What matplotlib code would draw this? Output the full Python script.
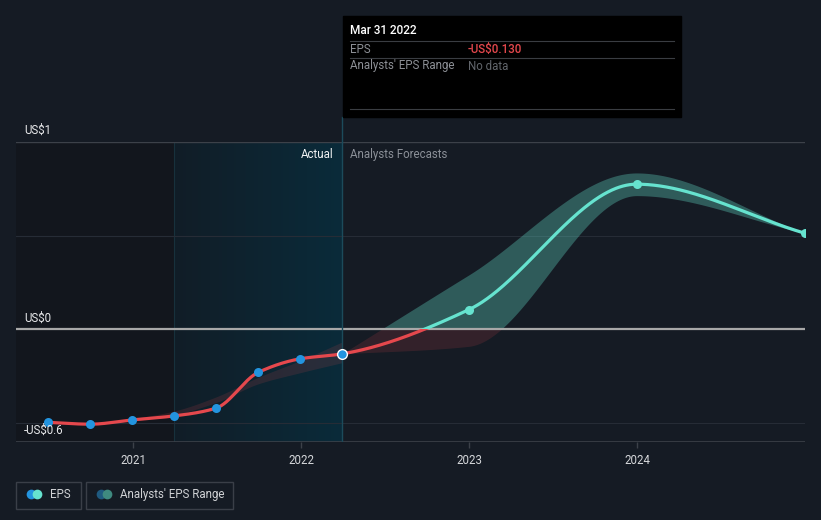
import numpy as np
import pandas as pd
import matplotlib
matplotlib.use("Agg")
from matplotlib import pyplot as plt
from matplotlib.patches import Rectangle

plt.rcParams['font.family'] = ['Roboto', 'DejaVu Sans']

# actual EPS (quarter ends)
eps_dates = ['2020-06-30', '2020-09-30', '2020-12-31', '2021-03-31',
             '2021-06-30', '2021-09-30', '2021-12-31', '2022-03-31']
eps_values = [-0.495, -0.505, -0.482, -0.461, -0.420, -0.229, -0.156, -0.130]

# analyst forecasts
fc_dates = ['2022-03-31', '2022-12-31', '2023-12-31', '2024-12-31']
fc_values = [-0.130, 0.105, 0.775, 0.514]
fc_low = [-0.130, -0.090, 0.714, 0.514]
fc_high = [-0.130, 0.290, 0.835, 0.514]

# past analyst range (faint band behind actuals)
past_dates = ['2020-09-30', '2020-12-31', '2021-03-31', '2021-06-30',
              '2021-09-30', '2021-12-31', '2022-03-31']
past_low = [-0.505, -0.487, -0.455, -0.390, -0.290, -0.230, -0.177]
past_high = [-0.505, -0.475, -0.435, -0.360, -0.255, -0.165, -0.067]

year_ticks = [2021, 2022, 2023, 2024]

BG = '#151b24'
RED = '#e5484d'
CYAN = '#66e3cf'
BLUE = '#2394df'
W, H = 821, 520


def dec_year(s):
    d = pd.Timestamp(s)
    n = 366 if d.is_leap_year else 365
    return d.year + (d.dayofyear - 1) / n


def smooth(x, y, n=400):
    # monotone cubic through the points, only for drawing
    x = np.asarray(x, float)
    y = np.asarray(y, float)
    h = np.diff(x)
    d = np.diff(y) / h
    m = np.zeros_like(y)
    for k in range(1, len(y) - 1):
        if d[k - 1] * d[k] > 0:
            w1 = 2 * h[k] + h[k - 1]
            w2 = h[k] + 2 * h[k - 1]
            m[k] = (w1 + w2) / (w1 / d[k - 1] + w2 / d[k])
    m[0] = d[0]
    m[-1] = d[-1]
    xs = np.linspace(x[0], x[-1], n)
    i = np.clip(np.searchsorted(x, xs) - 1, 0, len(h) - 1)
    t = (xs - x[i]) / h[i]
    ys = ((2 * t**3 - 3 * t**2 + 1) * y[i] + (t**3 - 2 * t**2 + t) * h[i] * m[i]
          + (-2 * t**3 + 3 * t**2) * y[i + 1] + (t**3 - t**2) * h[i] * m[i + 1])
    return xs, ys


def fx(x):
    return x / W


def fy(y):
    return 1 - y / H


ex = [dec_year(d) for d in eps_dates]
fxs = [dec_year(d) for d in fc_dates]
px = [dec_year(d) for d in past_dates]
split = dec_year('2021-03-31')
now = dec_year('2022-03-31')

fig = plt.figure(figsize=(W / 100, H / 100), dpi=100, facecolor=BG)
ax = fig.add_axes([fx(16), fy(442), fx(805) - fx(16), fy(142) - fy(442)])
ax.set_facecolor(BG)
x0, x1 = 2020.304, 2025.0
ax.set_xlim(x0, x1)
ax.set_ylim(-0.6, 1.0)
for s in ax.spines.values():
    s.set_visible(False)

# background regions
ax.axvspan(x0, split, color='#12161d', zorder=0, lw=0)
grad = np.linspace(0, 1, 256).reshape(1, -1)
cmap = matplotlib.colors.LinearSegmentedColormap.from_list('hl', ['#111d27', '#0a2b3a'])
ax.imshow(grad, extent=[split, now, -0.6, 1.0], aspect='auto', cmap=cmap, zorder=0.5)
ax.axvline(split, color='#17313c', lw=0.8, zorder=1)

# grid
for v in [0.5, -0.5]:
    ax.axhline(v, color='#262c36', lw=0.8, zorder=1)
ax.axhline(1.0, color='#3c4149', lw=1.0, zorder=1)
ax.axhline(-0.6, color='#3c4149', lw=1.2, zorder=1)

# past analyst range
sx, sl = smooth(px, past_low)
_, sh = smooth(px, past_high)
ax.fill_between(sx, sl, sh, color=RED, alpha=0.14, lw=0, zorder=2)

# forecast range, teal above zero and red below
fx_s, fl = smooth(fxs, fc_low)
_, fh = smooth(fxs, fc_high)
ax.fill_between(fx_s, np.maximum(fl, 0), np.maximum(fh, 0), color=CYAN, alpha=0.32, lw=0, zorder=2)
ax.fill_between(fx_s, np.minimum(fl, 0), np.minimum(fh, 0), color=RED, alpha=0.15, lw=0, zorder=2)

ax.axhline(0, color='#a8a8a8', lw=1.6, zorder=3)

# one continuous line through actuals and forecasts, coloured by sign
all_x = ex + fxs[1:]
all_y = eps_values + fc_values[1:]
lx, ly = smooth(all_x, all_y, n=900)
above = Rectangle((x0, 0), x1 - x0, 2, transform=ax.transData)
below = Rectangle((x0, -2), x1 - x0, 2, transform=ax.transData)
l1, = ax.plot(lx, ly, color=CYAN, lw=2.3, zorder=4)
l1.set_clip_path(above)
l2, = ax.plot(lx, ly, color=RED, lw=2.3, zorder=4)
l2.set_clip_path(below)

ax.plot(ex[:-1], eps_values[:-1], 'o', color=BLUE, ms=6.5, mew=0, zorder=5)
ax.plot(ex[-1], eps_values[-1], 'o', color=BLUE, ms=7, mec='white', mew=1, zorder=6)
ax.plot(fxs[1:], fc_values[1:], 'o', color=CYAN, ms=6.5, mew=0, zorder=5)

ax.axvline(now, ymin=0, ymax=1, color='#1c4b5b', lw=1, zorder=3)
fig.add_artist(plt.Line2D([fx(342), fx(342)], [fy(142), fy(117)], color='#1c4b5b', lw=1))

# x axis
ax.set_xticks(year_ticks)
ax.set_xticklabels([str(y) for y in year_ticks])
ax.tick_params(axis='x', colors='#3c4149', length=4, width=1, labelcolor='#d5d7da',
               labelsize=8.3, pad=5)
ax.set_yticks([])

# y labels
fig.text(fx(24), fy(130), 'US$1', color='#e8e9eb', fontsize=8.3, va='center')
fig.text(fx(24), fy(318), 'US$0', color='#e8e9eb', fontsize=8.3, va='center')
fig.text(fx(24), fy(430), '-US$0.6', color='#e8e9eb', fontsize=8.3, va='center')

fig.text(fx(333), fy(154), 'Actual', color='#f0f1f2', fontsize=8.3, va='center', ha='right')
fig.text(fx(350), fy(154), 'Analysts Forecasts', color='#8b9098', fontsize=8.3, va='center')

# tooltip
fig.add_artist(Rectangle((fx(343), fy(117)), fx(681) - fx(343), fy(16) - fy(117),
                         transform=fig.transFigure, color='#000000', zorder=10))
for yy in [41.5, 58.3, 109]:
    fig.add_artist(plt.Line2D([fx(350), fx(674)], [fy(yy), fy(yy)], color='#3a3d42',
                              lw=0.8, zorder=11))
fig.text(fx(350), fy(31), 'Mar 31 2022', color='white', fontsize=8.5, va='center',
         fontweight='medium', zorder=12)
fig.text(fx(350), fy(49.5), 'EPS', color='#8d9096', fontsize=8.3, va='center', zorder=12)
fig.text(fx(468), fy(49.5), '-US$0.130', color='#e5484d', fontsize=8.3, va='center',
         fontweight='medium', zorder=12)
fig.text(fx(350), fy(66), "Analysts' EPS Range", color='#8d9096', fontsize=8.3,
         va='center', zorder=12)
fig.text(fx(468), fy(66), 'No data', color='#62666c', fontsize=8.3, va='center', zorder=12)

# legend
for (a, b) in [(16, 81), (86, 233)]:
    fig.add_artist(Rectangle((fx(a), fy(509)), fx(b) - fx(a), fy(482) - fy(509),
                             transform=fig.transFigure, facecolor='none',
                             edgecolor='#3a3f48', lw=1))
fig.add_artist(plt.Line2D([fx(31)], [fy(494)], marker='o', ms=7, color=BLUE, mew=0))
fig.add_artist(plt.Line2D([fx(37)], [fy(494)], marker='o', ms=7, color=CYAN, mew=0))
fig.text(fx(50), fy(494.5), 'EPS', color='#d0d2d5', fontsize=8.3, va='center')
fig.add_artist(plt.Line2D([fx(101)], [fy(494)], marker='o', ms=7, color='#1f5a80', mew=0))
fig.add_artist(plt.Line2D([fx(107)], [fy(494)], marker='o', ms=7, color='#3f8a80', mew=0))
fig.text(fx(120), fy(494.5), "Analysts' EPS Range", color='#d0d2d5', fontsize=8.3, va='center')

fig.savefig('out.png', dpi=100, facecolor=BG)
